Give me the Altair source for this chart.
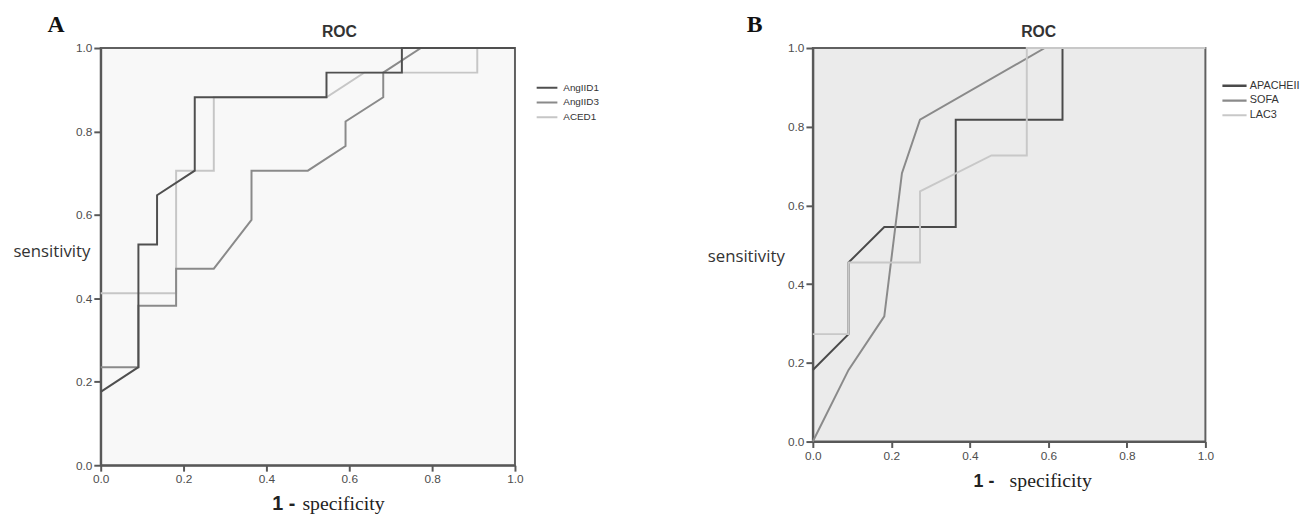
import altair as alt
import pandas as pd

# ---------------- Panel A data ----------------
a_series = ["AngIID1", "AngIID3", "ACED1"]
a_colors = ["#4f4f4f", "#8a8a8a", "#c6c6c6"]

angiid1_x = [0.0, 0.091, 0.091, 0.136, 0.136, 0.227, 0.227, 0.545, 0.545, 0.727, 0.727, 1.0]
angiid1_y = [0.176, 0.235, 0.529, 0.529, 0.647, 0.706, 0.882, 0.882, 0.941, 0.941, 1.0, 1.0]

angiid3_x = [0.0, 0.091, 0.091, 0.182, 0.182, 0.273, 0.364, 0.364, 0.5, 0.591, 0.591, 0.682, 0.682, 0.773, 1.0]
angiid3_y = [0.235, 0.235, 0.382, 0.382, 0.471, 0.471, 0.588, 0.706, 0.706, 0.765, 0.824, 0.882, 0.941, 1.0, 1.0]

aced1_x = [0.0, 0.182, 0.182, 0.273, 0.273, 0.545, 0.636, 0.909, 0.909, 1.0]
aced1_y = [0.412, 0.412, 0.706, 0.706, 0.882, 0.882, 0.941, 0.941, 1.0, 1.0]

# ---------------- Panel B data ----------------
b_series = ["APACHEII", "SOFA", "LAC3"]
b_colors = ["#4a4a4a", "#8a8a8a", "#c8c8c8"]

apache_x = [0.0, 0.091, 0.091, 0.182, 0.364, 0.364, 0.636, 0.636, 1.0]
apache_y = [0.182, 0.273, 0.455, 0.545, 0.545, 0.818, 0.818, 1.0, 1.0]

sofa_x = [0.0, 0.091, 0.182, 0.227, 0.273, 0.591, 1.0]
sofa_y = [0.0, 0.182, 0.318, 0.682, 0.818, 1.0, 1.0]

lac3_x = [0.0, 0.091, 0.091, 0.273, 0.273, 0.455, 0.545, 0.545, 1.0]
lac3_y = [0.273, 0.273, 0.455, 0.455, 0.636, 0.727, 0.727, 1.0, 1.0]

tick_values = [0.0, 0.2, 0.4, 0.6, 0.8, 1.0]


def frame(pairs):
    rows = []
    for name, xs, ys in pairs:
        for i, (x, y) in enumerate(zip(xs, ys)):
            rows.append({"series": name, "x": x, "y": y, "i": i})
    return pd.DataFrame(rows)


# draw order: first rows are drawn underneath
df_a = frame([("ACED1", aced1_x, aced1_y),
              ("AngIID3", angiid3_x, angiid3_y),
              ("AngIID1", angiid1_x, angiid1_y)])
df_b = frame([("APACHEII", apache_x, apache_y),
              ("SOFA", sofa_x, sofa_y),
              ("LAC3", lac3_x, lac3_y)])

AXIS_COLOR = "#585858"


def panel(df, series, colors, w, h, letter, letter_dx, title_dx,
          one_x, one_size, spec_x, xtitle_y, ytitle_x, ytitle_y, leg_x, leg_y,
          sym_size, label_offset, label_size, bg, widths):
    xaxis = alt.Axis(values=tick_values, format=".1f", grid=False, labelFlush=False,
                     tickSize=6, tickWidth=2, tickColor=AXIS_COLOR,
                     domainColor=AXIS_COLOR, domainWidth=2,
                     labelFont="Liberation Sans", labelFontSize=12, labelColor="#4d4d4d",
                     labelPadding=3,
                     title="specificity", titleFont="Liberation Serif", titleFontSize=20,
                     titleFontWeight="normal", titleColor="#222222",
                     titleX=spec_x, titleY=xtitle_y, titleAlign="left",
                     titleBaseline="alphabetic")
    yaxis = alt.Axis(values=tick_values, format=".1f", grid=False, labelFlush=False,
                     tickSize=7, tickWidth=2, tickColor=AXIS_COLOR,
                     domainColor=AXIS_COLOR, domainWidth=2,
                     labelFont="Liberation Sans", labelFontSize=12, labelColor="#4d4d4d",
                     labelPadding=2,
                     title="sensitivity", titleFont="Open Sans", titleFontSize=17,
                     titleFontWeight="normal", titleColor="#333333", titleAngle=0,
                     titleX=ytitle_x, titleY=ytitle_y, titleAlign="center",
                     titleBaseline="middle")
    lines = alt.Chart(df).mark_line(strokeWidth=2).encode(
        x=alt.X("x:Q", scale=alt.Scale(domain=[0, 1], nice=False), axis=xaxis),
        y=alt.Y("y:Q", scale=alt.Scale(domain=[0, 1], nice=False), axis=yaxis),
        color=alt.Color("series:N",
                        scale=alt.Scale(domain=series, range=colors),
                        legend=alt.Legend(orient="none", legendX=leg_x, legendY=leg_y,
                                          title=None, symbolType="stroke",
                                          symbolSize=sym_size, symbolStrokeWidth=2,
                                          clipHeight=12.5, rowPadding=2, padding=0,
                                          labelOffset=label_offset,
                                          labelFont="Liberation Sans",
                                          labelFontSize=label_size, labelColor="#333333")),
        strokeWidth=alt.StrokeWidth("series:N",
                                    scale=alt.Scale(domain=series, range=widths),
                                    legend=None),
        order=alt.Order("i:Q"),
        detail="series:N",
    )
    lab = alt.Chart(pd.DataFrame({"label": [letter]})).mark_text(
        font="Liberation Serif", fontSize=24, fontWeight="bold",
        align="left", baseline="top", color="#111111"
    ).encode(text="label:N", x=alt.value(letter_dx), y=alt.value(-35))
    one = alt.Chart(pd.DataFrame({"label": ["1 -"]})).mark_text(
        font="Liberation Sans", fontSize=one_size, fontWeight="bold",
        align="left", baseline="alphabetic", color="#222222"
    ).encode(text="label:N", x=alt.value(one_x), y=alt.value(h + xtitle_y))
    return alt.layer(lines, lab, one).properties(
        width=w, height=h,
        title=alt.TitleParams("ROC", dx=title_dx, dy=35, anchor="middle", frame="group",
                              font="Liberation Sans", fontSize=16, fontWeight="bold",
                              color="#333333", offset=8),
        view=alt.ViewBackground(fill=bg, stroke="#606060", strokeWidth=2),
    )


pa = panel(df_a, a_series, a_colors, 420, 423, "A", -54, 32,
           174, 20, 204, 45, -50, 206, 441, 34, 441, 5, 10, "#f8f8f8", [2, 2, 2])
pb = panel(df_b, b_series, b_colors, 398, 399, "B", -67, 30,
           163, 18, 199, 46, -68, 211, 414, 32, 600, 2, 11, "#ebebeb", [2.5, 2, 2])

chart = alt.hconcat(pa, pb, spacing=302, bounds="flush").resolve_scale(
    color="independent", strokeWidth="independent"
).resolve_legend(color="independent").properties(
    padding={"left": 3, "top": 1, "right": 5, "bottom": 5},
    background="white",
)

chart.save("out.html", embed_options={"renderer": "svg", "actions": False})
